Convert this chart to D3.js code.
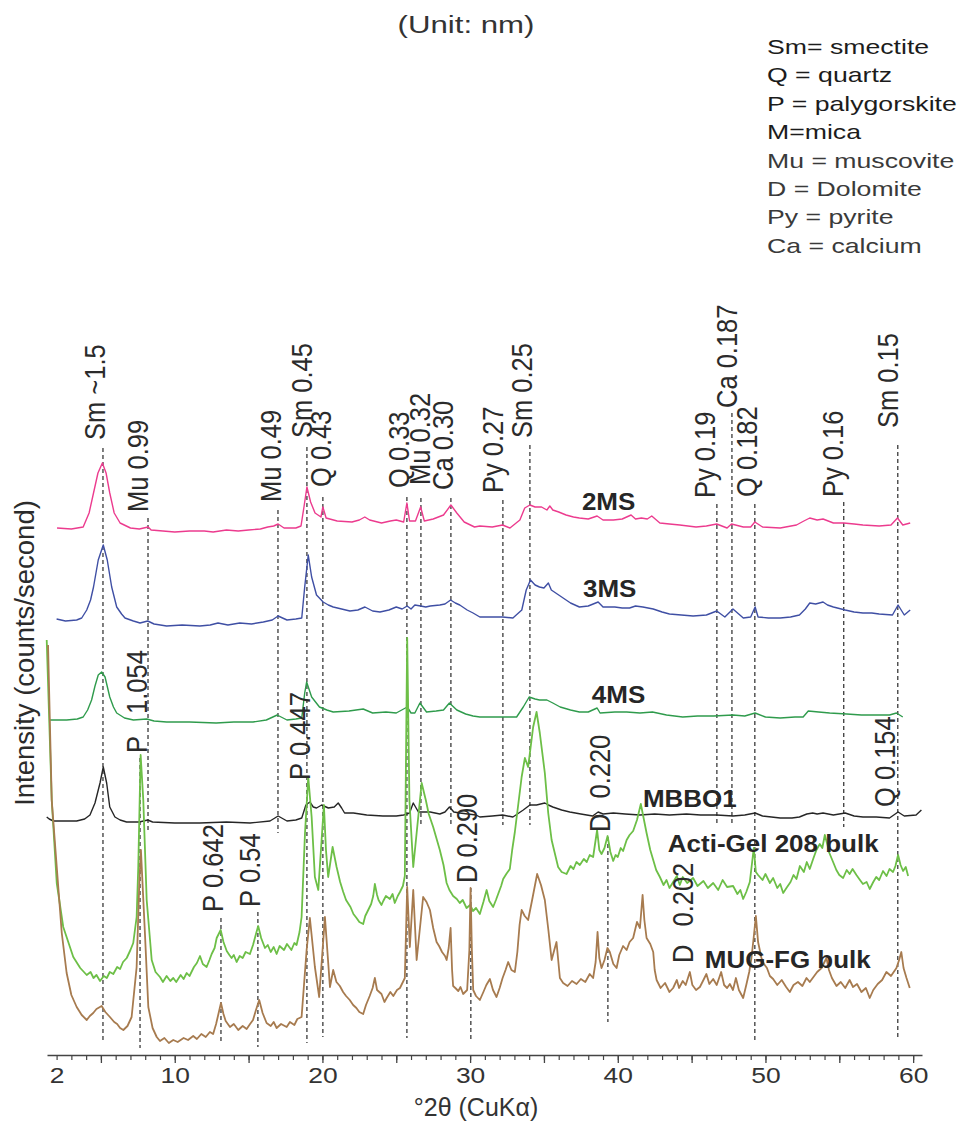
<!DOCTYPE html>
<html>
<head>
<meta charset="utf-8">
<script src="https://cdn.jsdelivr.net/npm/d3@7"></script>
<style>
  html, body { margin: 0; padding: 0; background: #fff; }
  svg { display: block; }
  text { font-family: "Liberation Sans", Arial, Helvetica, sans-serif; }
</style>
</head>
<body>
<svg id="chart" width="964" height="1130"></svg>
<script>
// ---- Diffractogram data: [°2θ, relative intensity] for each sample ----
const sampleNames = ["2MS", "3MS", "4MS", "MBBO1", "Acti-Gel 208 bulk", "MUG-FG bulk"];

const ms2 = [[2.03,4],[3.0,3],[3.8,5],[4.2,19],[4.5,39],[4.8,59],[5.1,69],[5.35,59],[5.6,39],[5.9,19],[6.3,9],[7.0,4],[7.6,3],[8.2,5],[8.4,2],[9.2,1],[10,0],[11,1],[12,1],[12.6,0],[13.5,2],[14.3,1],[15,2],[15.8,3],[16.3,5],[16.7,6],[17.0,8],[17.4,4],[18.2,4],[18.55,6],[18.75,25],[18.95,45],[19.2,30],[19.5,19],[19.9,15],[20.03,25],[20.25,14],[21,11],[22,10],[22.5,12],[22.87,15],[23.2,12],[24,9],[24.6,11],[25,12],[25.5,10],[25.72,29],[25.9,11],[26.3,11],[26.65,25],[26.9,11],[27.5,13],[28.2,17],[28.7,27],[29.1,19],[29.6,10],[30.3,5],[30.66,6],[31.5,5],[32.2,7],[32.7,4],[33.37,12],[33.7,24],[34.05,27],[34.4,25],[34.84,25],[35.2,22],[35.4,26],[35.6,22],[36.0,20],[36.5,17],[37.0,15],[37.4,14],[38.0,13],[38.6,16],[39.0,12],[39.7,12],[40.3,13],[40.9,17],[41.2,13],[41.6,14],[42.0,13],[42.3,16],[42.85,9],[43.5,8],[44.2,7],[45.3,5],[46.0,6],[46.7,8],[47.4,4],[47.7,8],[48.5,5],[49.0,5],[49.28,10],[49.8,5],[51.0,4],[52.1,7],[52.6,11],[53.0,14],[53.5,12],[53.9,13],[54.6,9],[55.3,9],[56.0,8],[56.6,7],[57.7,6],[58.5,7],[58.94,14],[59.3,7],[59.8,9]];

const ms3 = [[2.0,6],[2.6,4],[3.36,5],[3.7,7],[4.04,15],[4.3,25],[4.5,38],[4.82,65],[5.16,80],[5.43,65],[5.73,38],[6.07,18],[6.4,11],[6.63,7],[7.2,4],[7.65,2],[8.17,4],[8.6,1],[9.45,-1],[10.5,0],[11.7,-1],[12.4,0],[12.93,2],[13.6,0],[14.4,2],[15.2,1],[16.0,3],[16.6,5],[17.0,9],[17.6,5],[18.2,6],[18.6,7],[18.8,38],[19.04,70],[19.27,48],[19.6,30],[20.05,23],[20.4,20],[20.73,18],[21.3,16],[21.86,14],[22.4,15],[22.88,18],[23.4,14],[23.9,13],[24.5,15],[25.0,18],[25.4,16],[25.74,19],[26.0,16],[26.26,20],[26.65,19],[27.0,18],[27.3,19],[27.95,20],[28.3,21],[28.68,25],[29.0,22],[29.3,20],[29.8,15],[30.2,12],[30.66,8],[31.4,8],[32.2,8],[32.9,7],[33.5,15],[33.8,35],[34.09,45],[34.4,40],[34.7,38],[35.0,37],[35.3,42],[35.5,35],[35.9,31],[36.3,27],[36.8,22],[37.4,18],[38.0,19],[38.67,23],[39.0,18],[39.8,18],[40.3,17],[40.8,17],[41.2,19],[41.7,18],[42.4,16],[43.0,13],[43.5,11],[44.3,10],[45.1,9],[46.0,10],[46.7,14],[47.25,8],[47.8,16],[48.5,7],[49.0,8],[49.3,18],[49.5,8],[50.2,7],[51.0,7],[51.7,8],[52.3,10],[52.7,16],[53.0,22],[53.4,21],[53.9,23],[54.2,20],[54.6,18],[55.4,15],[56.0,13],[56.6,12],[57.2,12],[57.7,11],[58.6,10],[58.98,20],[59.4,10],[59.8,15]];

const ms4 = [[1.55,2],[2.68,2],[3.4,3],[3.8,5],[4.1,12],[4.37,22],[4.6,36],[4.82,47],[5.05,50],[5.28,45],[5.6,25],[5.85,15],[6.07,9],[6.6,4],[7.2,2],[8.1,3],[8.6,1],[9.45,0],[11.0,0],[12.8,-1],[14.0,0],[15.3,0],[16.2,2],[16.94,7],[17.6,2],[18.2,3],[18.6,4],[18.8,29],[18.93,40],[19.27,25],[19.8,15],[20.3,12],[20.73,10],[21.8,11],[22.76,13],[23.4,9],[24.3,10],[25.0,9],[25.74,15],[26.0,9],[26.26,9],[26.6,19],[27.05,10],[27.7,11],[28.2,12],[28.6,19],[29.1,12],[29.7,8],[30.2,6],[30.66,5],[31.5,5],[32.2,5],[33.15,5],[33.6,15],[34.0,25],[34.4,23],[34.7,22],[35.2,22],[35.6,19],[36.1,15],[36.8,12],[37.4,10],[38.0,10],[38.6,14],[38.8,9],[39.8,10],[40.6,10],[41.5,9],[42.35,10],[43.3,7],[44.4,5],[45.4,6],[46.5,6],[47.8,7],[48.6,6],[49.3,9],[50.0,5],[51.0,4],[52.0,5],[52.55,5],[52.9,11],[53.6,10],[54.35,9],[55.5,8],[56.5,7],[57.7,7],[58.4,7],[58.87,9],[59.3,5]];

const mbbo1 = [[1.33,5],[1.5,3],[1.78,1],[2.6,1],[3.36,1],[3.9,3],[4.26,7],[4.6,19],[4.94,39],[5.16,55],[5.39,39],[5.6,15],[5.95,5],[6.3,2],[6.74,0],[7.6,0],[8.17,2],[8.5,0],[10.0,-1],[11.7,-1],[13.5,0],[15.1,-1],[16.45,1],[17.0,6],[17.6,1],[18.2,2],[18.6,4],[18.88,17],[19.15,20],[19.38,15],[19.6,14],[19.95,17],[20.4,14],[20.8,15],[21.07,19],[21.3,14],[21.5,9],[22.1,9],[23.0,7],[24.1,6],[25.0,6],[25.5,7],[25.9,9],[26.15,19],[26.5,10],[27.3,10],[27.95,8],[28.3,10],[28.6,15],[28.9,10],[29.3,9],[30.4,7],[30.66,5],[31.5,6],[32.2,7],[32.9,5],[33.6,12],[34.05,17],[34.5,17],[35.06,19],[35.3,17],[35.6,15],[36.2,12],[36.75,10],[37.5,8],[38.3,6],[38.67,10],[39.0,8],[39.7,9],[40.5,8],[41.5,7],[42.5,8],[43.5,7],[44.65,8],[45.6,7],[46.7,7],[47.8,6],[48.6,7],[49.3,9],[49.8,6],[51.0,4],[51.8,4],[52.3,5],[52.8,8],[53.2,9],[53.5,8],[53.9,9],[54.6,7],[55.4,9],[56.0,6],[56.6,5],[57.5,5],[58.4,4],[58.98,10],[59.4,6],[60.2,7],[60.56,12]];

const actiGel = [[1.33,360],[1.67,200],[2.01,117],[2.45,73],[3.13,43],[3.6,32],[4.04,25],[4.3,28],[4.5,22],[4.7,25],[4.94,19],[5.2,24],[5.4,22],[5.6,28],[5.84,26],[6.1,33],[6.3,31],[6.5,38],[6.75,42],[7.0,50],[7.19,57],[7.42,83],[7.53,133],[7.69,245],[7.87,200],[8.1,100],[8.44,40],[8.7,28],[9.0,23],[9.2,18],[9.45,24],[9.7,19],[9.9,22],[10.1,18],[10.4,25],[10.6,21],[10.81,27],[11.0,24],[11.3,33],[11.5,37],[11.71,44],[11.9,36],[12.16,33],[12.35,40],[12.5,46],[12.7,52],[12.84,62],[13.11,70],[13.3,58],[13.52,49],[13.7,45],[13.85,42],[14.0,45],[14.19,38],[14.4,44],[14.6,42],[14.8,48],[15.09,46],[15.3,55],[15.5,66],[15.65,74],[15.85,62],[16.11,52],[16.3,55],[16.5,48],[16.7,53],[16.9,46],[17.1,54],[17.4,50],[17.6,56],[17.9,50],[18.1,57],[18.25,55],[18.45,68],[18.59,83],[18.82,167],[19.04,223],[19.27,183],[19.49,123],[19.72,110],[19.9,150],[20.1,195],[20.24,150],[20.39,123],[20.69,153],[20.96,133],[21.2,118],[21.41,108],[21.6,100],[21.9,93],[22.1,86],[22.31,82],[22.5,78],[22.76,76],[22.9,84],[23.1,90],[23.3,96],[23.44,104],[23.55,116],[23.7,105],[23.8,100],[24.0,95],[24.12,99],[24.3,104],[24.57,101],[24.75,106],[24.9,97],[25.1,104],[25.25,108],[25.45,114],[25.58,124],[25.74,362],[25.89,200],[26.15,133],[26.4,170],[26.72,217],[27.0,200],[27.2,186],[27.5,173],[27.95,150],[28.2,135],[28.41,117],[28.6,110],[28.85,104],[29.1,101],[29.3,97],[29.5,100],[29.76,92],[30.0,95],[30.2,89],[30.4,92],[30.66,86],[30.9,98],[31.12,110],[31.3,99],[31.56,93],[31.75,100],[31.9,106],[32.1,114],[32.24,121],[32.45,126],[32.69,131],[32.85,150],[33.03,168],[33.49,223],[33.71,242],[33.93,233],[34.27,273],[34.5,288],[34.72,267],[35.06,227],[35.29,187],[35.52,160],[35.96,133],[36.2,128],[36.53,126],[36.8,134],[37.0,131],[37.2,138],[37.43,135],[37.7,141],[37.9,138],[38.1,145],[38.33,143],[38.6,170],[38.75,150],[38.9,146],[39.1,152],[39.31,164],[39.5,148],[39.69,139],[39.85,145],[40.0,143],[40.2,152],[40.36,149],[40.6,160],[40.8,165],[41.04,169],[41.3,180],[41.56,196],[41.95,167],[42.2,150],[42.4,140],[42.6,130],[42.85,123],[43.1,115],[43.3,120],[43.5,112],[43.75,118],[44.0,124],[44.2,115],[44.4,123],[44.7,117],[45.1,122],[45.4,114],[45.8,119],[46.1,112],[46.46,117],[46.8,110],[47.1,120],[47.4,113],[47.81,114],[48.1,106],[48.3,110],[48.49,101],[48.7,108],[48.94,118],[49.21,152],[49.35,128],[49.5,125],[49.8,120],[50.0,126],[50.3,117],[50.52,122],[50.8,112],[51.0,116],[51.2,107],[51.42,112],[51.7,118],[51.9,125],[52.1,121],[52.33,134],[52.6,128],[52.8,138],[53.0,131],[53.23,141],[53.45,150],[53.68,156],[53.85,152],[54.02,165],[54.2,155],[54.3,148],[54.58,138],[54.8,130],[55.0,125],[55.26,122],[55.5,130],[55.7,126],[55.9,131],[56.16,125],[56.4,120],[56.6,116],[56.85,118],[57.06,111],[57.3,118],[57.5,123],[57.7,120],[57.96,129],[58.2,124],[58.4,131],[58.64,128],[58.8,134],[58.98,145],[59.15,135],[59.32,129],[59.5,133],[59.66,124]];

const mugFg = [[1.42,395],[1.67,240],[2.01,173],[2.35,107],[2.68,67],[3.0,45],[3.36,33],[3.7,25],[4.04,20],[4.25,24],[4.48,27],[4.7,31],[5.05,34],[5.3,28],[5.61,23],[5.9,18],[6.1,16],[6.3,12],[6.52,10],[6.8,14],[7.08,23],[7.42,73],[7.6,157],[7.71,190],[7.98,107],[8.21,33],[8.5,12],[8.78,3],[9.0,-1],[9.3,2],[9.6,-3],[9.9,0],[10.2,-2],[10.6,2],[10.9,0],[11.25,4],[11.5,1],[11.8,6],[12.1,3],[12.38,8],[12.6,6],[12.8,16],[13.13,37],[13.3,26],[13.45,19],[13.74,13],[14.0,16],[14.3,10],[14.6,14],[14.87,11],[15.1,16],[15.3,20],[15.5,30],[15.72,40],[15.95,27],[16.22,17],[16.5,14],[16.7,18],[16.9,12],[17.2,16],[17.58,13],[17.8,18],[18.1,15],[18.3,21],[18.59,23],[18.93,90],[19.15,122],[19.49,73],[19.78,43],[20.17,123],[20.51,53],[20.73,70],[20.95,58],[21.18,54],[21.4,48],[21.6,44],[21.85,40],[22.08,35],[22.3,32],[22.5,28],[22.76,26],[22.95,35],[23.2,44],[23.4,52],[23.55,62],[23.7,50],[24.0,46],[24.2,38],[24.35,42],[24.6,48],[24.8,44],[25.05,50],[25.25,52],[25.45,58],[25.58,62],[25.74,153],[25.92,93],[26.15,150],[26.38,80],[26.82,143],[27.05,138],[27.28,130],[27.5,112],[27.73,98],[27.9,94],[28.1,88],[28.3,84],[28.41,80],[28.55,92],[28.68,112],[28.78,70],[28.85,54],[29.0,52],[29.2,49],[29.35,53],[29.53,46],[29.8,50],[29.95,90],[30.03,152],[30.12,90],[30.21,50],[30.4,44],[30.66,40],[30.9,48],[31.1,55],[31.34,61],[31.55,50],[31.79,43],[32.0,52],[32.2,62],[32.4,70],[32.58,78],[32.8,70],[33.03,68],[33.2,88],[33.35,115],[33.49,130],[33.7,124],[33.93,120],[34.2,140],[34.54,166],[34.8,155],[35.06,140],[35.3,110],[35.52,80],[35.7,90],[35.85,98],[36.08,62],[36.3,57],[36.6,54],[36.9,59],[37.21,56],[37.5,61],[37.8,58],[38.1,66],[38.33,62],[38.5,78],[38.63,108],[38.75,82],[38.9,72],[39.1,80],[39.3,92],[39.46,88],[39.7,76],[39.92,72],[40.1,85],[40.36,94],[40.6,90],[40.8,98],[41.04,102],[41.3,118],[41.5,112],[41.68,145],[41.8,120],[41.95,102],[42.2,96],[42.4,88],[42.5,70],[42.63,60],[42.9,52],[43.2,57],[43.5,48],[43.75,52],[44.0,60],[44.15,52],[44.4,59],[44.6,55],[44.88,68],[45.05,55],[45.3,50],[45.56,53],[45.8,60],[46.0,66],[46.2,56],[46.46,61],[46.7,55],[47.0,68],[47.2,55],[47.4,52],[47.59,56],[47.8,50],[48.0,62],[48.2,50],[48.49,42],[48.7,55],[48.9,68],[49.05,82],[49.2,102],[49.35,124],[49.5,98],[49.73,82],[49.9,76],[50.1,72],[50.3,64],[50.52,61],[50.8,55],[51.1,60],[51.4,53],[51.65,48],[51.9,55],[52.2,58],[52.5,54],[52.78,62],[53.0,58],[53.3,64],[53.5,68],[53.8,72],[54.13,82],[54.3,70],[54.5,62],[54.81,54],[55.1,58],[55.4,52],[55.7,60],[55.93,53],[56.2,56],[56.5,48],[56.8,52],[57.06,42],[57.3,50],[57.6,56],[57.9,60],[58.19,68],[58.5,64],[58.87,72],[59.05,80],[59.2,88],[59.35,72],[59.55,62],[59.77,52]];

const sampleSeries = [ms2, ms3, ms4, mbbo1, actiGel, mugFg];
// vertical stacking offset of each pattern (same units as intensity)
const sampleOffsets = [523, 430, 333, 233, 55, 15];

// ---- Reflections marked with dashed lines: label and °2θ ----
const peakNames = ["Sm ~1.5", "Mu 0.99", "Mu 0.49", "Sm 0.45", "Q 0.43", "Q 0.33", "Mu 0.32", "Ca 0.30",
  "Py 0.27", "Sm 0.25", "Py 0.19", "Ca 0.187", "Q 0.182", "Py 0.16", "Sm 0.15",
  "P 1.054", "P 0.447", "P 0.642", "P 0.54", "D 0.290", "D 0.220", "D 0.202", "Q 0.154"];
const peakTheta = [5.14, 8.19, 16.99, 18.95, 20.03, 25.72, 26.67, 28.70,
  32.22, 34.05, 46.71, 47.73, 49.28, 55.30, 58.96,
  7.65, 18.95, 13.13, 15.63, 30.05, 39.33, 45.0, 58.96];

// ---- Axis ticks ----
const tickLabelValues = [2, 10, 20, 30, 40, 50, 60];
const minorTickValues = d3.range(2, 61);
const majorTickValues = d3.range(5, 61, 5);

// ---- Legend of mineral abbreviations ----
const legendLines = ["Sm= smectite", "Q = quartz", "P = palygorskite", "M=mica",
  "Mu = muscovite", "D = Dolomite", "Py = pyrite", "Ca = calcium"];

// ---------------- layout & style ----------------
const colors = ["#ec3b8e", "#3f4fa4", "#2f9b4c", "#262626", "#6dbf47", "#a77b4f"];

// label placement per marked reflection: [label °2θ, label foot, line top, line bottom, gap after first word]
const peakLayout = [
  [5.28, 615, 607, 12, 0], [8.22, 543, 537, 222, 0], [17.19, 553, 545, 222, 0], [19.29, 617, 608, 12, 0],
  [20.55, 568, 558, 18, 0], [25.86, 567, 558, 17, 0], [27.28, 570, 557, 230, 0], [28.83, 565, 557, 230, 0],
  [32.25, 562, 555, 230, 0], [34.18, 617, 610, 230, 0], [46.55, 557, 551, 230, 0], [48.06, 647, 642, 230, 0],
  [49.41, 558, 551, 12, 0], [55.24, 558, 553, 228, 0], [58.96, 627, 610, 17, 0],
  [8.12, 302, 297, 7, 15], [19.15, 275, null, null, 0], [13.26, 143, 137, 12, 0], [15.77, 148, 143, 8, 0],
  [30.46, 172, 167, 13, 0], [39.46, 223, 218, 33, 8], [45.08, 92, null, null, 11], [58.76, 248, null, null, 0]
];
// sample name placement: [°2θ of text start, baseline]
const sampleLabelPos = [[37.57, 545], [37.64, 458], [38.24, 352], [41.7, 248], [43.39, 203], [45.89, 87]];

const svg = d3.select("#chart");

const x = d3.scaleLinear().domain([1.35, 60.6]).range([47, 922]);
const y = d3.scaleLinear().domain([0, 1000]).range([1055, 55]);

// helper for text drawn with a horizontal stretch
function stretchedText(g, px, py, str, opts) {
  const rot = opts.rotate || 0;
  const sx = opts.sx || 1, sy = opts.sy || 1;
  return g.append("text")
    .attr("transform", `translate(${px},${py}) rotate(${rot}) scale(${sx},${sy})`)
    .attr("font-size", opts.size)
    .attr("font-weight", opts.weight || "normal")
    .attr("fill", opts.fill || "#2b2b2b")
    .attr("text-anchor", opts.anchor || "start")
    .text(str);
}

// ---- dashed reflection markers ----
const markG = svg.append("g");
peakTheta.forEach((t, i) => {
  const L = peakLayout[i];
  if (L[2] !== null) {
    markG.append("line")
      .attr("x1", x(t)).attr("x2", x(t))
      .attr("y1", y(L[2])).attr("y2", y(L[3]))
      .attr("stroke", "#3a3a3a").attr("stroke-width", 1.3)
      .attr("stroke-dasharray", "4,3");
  }
});

// ---- patterns ----
const traceG = svg.append("g");
sampleSeries.forEach((series, i) => {
  const line = d3.line()
    .x(d => x(d[0]))
    .y(d => y(sampleOffsets[i] + d[1]));
  traceG.append("path")
    .datum(series)
    .attr("d", line)
    .attr("fill", "none")
    .attr("stroke", colors[i])
    .attr("stroke-width", i >= 4 ? 1.8 : 1.4)
    .attr("stroke-linejoin", "round");
});

// ---- reflection labels (rotated) ----
const labG = svg.append("g");
peakNames.forEach((name, i) => {
  const L = peakLayout[i];
  const parts = name.split(" ");
  const t = labG.append("text")
    .attr("transform", `translate(${x(L[0])},${y(L[1])}) rotate(-90) scale(1,1.15)`)
    .attr("font-size", 25.5)
    .attr("fill", "#2b2b2b");
  t.append("tspan").text(parts[0]);
  t.append("tspan").attr("dx", L[4]).text(" " + parts.slice(1).join(" "));
});

// ---- sample names ----
sampleNames.forEach((name, i) => {
  const P = sampleLabelPos[i];
  stretchedText(svg, x(P[0]), y(P[1]), name, { size: 23, weight: "bold", sx: 1.13, fill: "#262626" });
});

// ---- x axis ----
const axisG = svg.append("g").attr("transform", `translate(0,${y(0)})`);
axisG.append("g")
  .call(d3.axisBottom(x).tickValues(minorTickValues).tickSize(5).tickSizeOuter(0).tickFormat(""))
  .call(g => g.select(".domain").attr("stroke", "#444").attr("stroke-width", 1.4))
  .call(g => g.selectAll(".tick line").attr("stroke", "#444").attr("stroke-width", 1.2));
axisG.append("g")
  .call(d3.axisBottom(x).tickValues(majorTickValues).tickSize(8).tickSizeOuter(0).tickFormat(""))
  .call(g => g.select(".domain").remove())
  .call(g => g.selectAll(".tick line").attr("stroke", "#444").attr("stroke-width", 1.3));
axisG.append("g")
  .call(d3.axisBottom(x).tickValues(tickLabelValues).tickSize(0).tickFormat(d3.format("d")))
  .call(g => g.select(".domain").remove())
  .call(g => g.selectAll(".tick text")
    .attr("y", 28).attr("dy", 0)
    .attr("transform", "scale(1.2,1)")
    .attr("font-size", 22)
    .attr("font-family", "\"Liberation Sans\", Arial, sans-serif")
    .attr("fill", "#333"));

// ---- axis titles ----
svg.append("text")
  .attr("x", 476).attr("y", 1116)
  .attr("text-anchor", "middle")
  .attr("font-size", 25)
  .attr("fill", "#333")
  .text("°2θ (CuKα)");

svg.append("text")
  .attr("transform", "translate(34,653) rotate(-90)")
  .attr("text-anchor", "middle")
  .attr("font-size", 27.5)
  .attr("fill", "#2b2b2b")
  .text("Intensity (counts/second)");

// ---- title ----
stretchedText(svg, 466, 33, "(Unit: nm)", { size: 24, sx: 1.3, anchor: "middle", fill: "#333" });

// ---- legend ----
legendLines.forEach((s, i) => {
  stretchedText(svg, 767, 54 + i * 28.4, s, { size: 20.5, sx: 1.3, fill: i < 4 ? "#1c1c1c" : "#3a3a3a" });
});
</script>
</body>
</html>
